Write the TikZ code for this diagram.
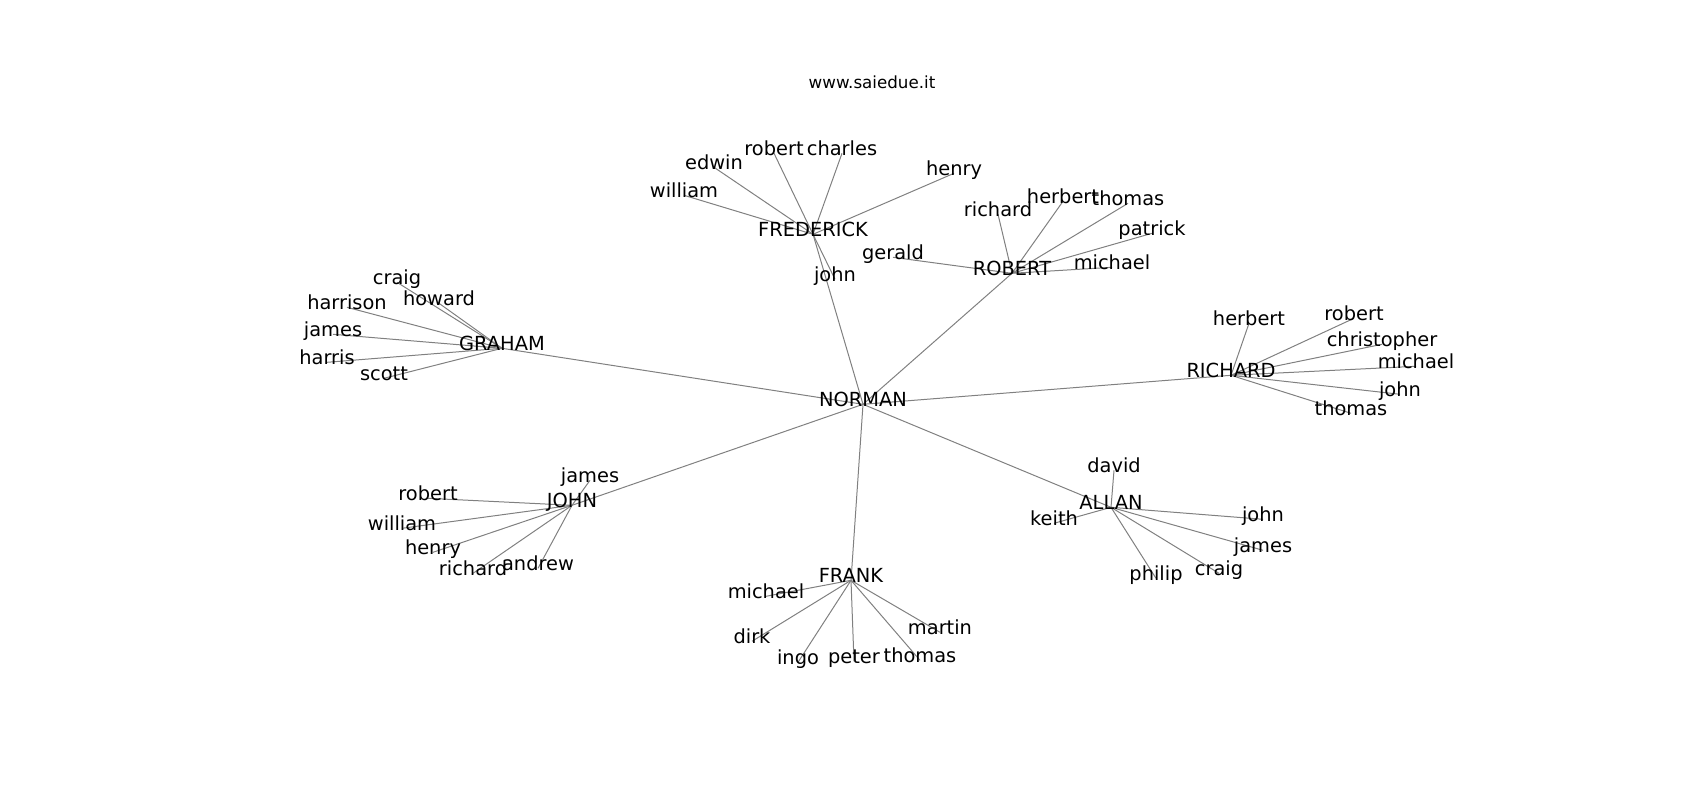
\documentclass[tikz,border=0pt]{standalone}
\usepackage{fontspec}
\setmainfont{DejaVu Sans}
\usetikzlibrary{backgrounds}

\begin{document}
\begin{tikzpicture}[x=1pt,y=-1pt,
	lbl/.style={inner sep=0pt, text height=0.73em, text depth=0.24em, font=\fontsize{19.4}{23}\selectfont},
	link/.style={draw=black!50, line width=1pt}]
			\useasboundingbox (0,0) rectangle (1700,800);
			\node[font=\fontsize{16.7}{20}\selectfont] at(872,82) (title) {www.saiedue.it};
			
			\begin{scope}[shift={(0,3.3)}]
			\node[lbl] at(863,401) (norman) {NORMAN};
			\node[lbl] at(813,231) (fred) {FREDERICK};
			\node[lbl] at(1012,270) (rob) {ROBERT};
			\node[lbl] at(502,345) (grah) {GRAHAM};
			\node[lbl] at(1231,372) (rich) {RICHARD};
			\node[lbl] at(572,502) (john) {JOHN};
			\node[lbl] at(851,577) (frank) {FRANK};
			\node[lbl] at(1111,504) (allan) {ALLAN};
			
			\node[lbl] at(684,192) (fwilliam) {william};
			\node[lbl] at(714,164) (fedwin) {edwin};
			\node[lbl] at(774,150) (frobert) {robert};
			\node[lbl] at(842,150) (fcharles) {charles};
			\node[lbl] at(954,170) (fhenry) {henry};
			\node[lbl] at(835,276) (fjohn) {john};
			
			\node[lbl] at(998,211) (rrichard) {richard};
			\node[lbl] at(1063,198) (rherbert) {herbert};
			\node[lbl] at(1128,200) (rthomas) {thomas};
			\node[lbl] at(1152,230) (rpatrick) {patrick};
			\node[lbl] at(1112,264) (rmichael) {michael};
			\node[lbl] at(893,254) (rgerald) {gerald};
			
			\node[lbl] at(397,279) (gcraig) {craig};
			\node[lbl] at(439,300) (ghoward) {howard};
			\node[lbl] at(347,304) (gharrison) {harrison};
			\node[lbl] at(333,331) (gjames) {james};
			\node[lbl] at(327,359) (gharris) {harris};
			\node[lbl] at(384,375) (gscott) {scott};
			
			\node[lbl] at(1249,320) (hherbert) {herbert};
			\node[lbl] at(1354,315) (hrobert) {robert};
			\node[lbl] at(1382,341) (hchristopher) {christopher};
			\node[lbl] at(1416,363) (hmichael) {michael};
			\node[lbl] at(1400,391) (hjohn) {john};
			\node[lbl] at(1351,410) (hthomas) {thomas};
			
			\node[lbl] at(590,477) (jjames) {james};
			\node[lbl] at(428,495) (jrobert) {robert};
			\node[lbl] at(402,525) (jwilliam) {william};
			\node[lbl] at(433,549) (jhenry) {henry};
			\node[lbl] at(473,570) (jrichard) {richard};
			\node[lbl] at(538,565) (jandrew) {andrew};
			
			\node[lbl] at(766,593) (kmichael) {michael};
			\node[lbl] at(752,638) (kdirk) {dirk};
			\node[lbl] at(798,659) (kingo) {ingo};
			\node[lbl] at(854,658) (kpeter) {peter};
			\node[lbl] at(920,657) (kthomas) {thomas};
			\node[lbl] at(940,629) (kmartin) {martin};
			
			\node[lbl] at(1114,467) (adavid) {david};
			\node[lbl] at(1054,520) (akeith) {keith};
			\node[lbl] at(1263,516) (ajohn) {john};
			\node[lbl] at(1263,547) (ajames) {james};
			\node[lbl] at(1219,570) (acraig) {craig};
			\node[lbl] at(1156,575) (aphilip) {philip};
			\end{scope}
			
			\begin{scope}[on background layer]
			\foreach \c in {fred,rob,grah,rich,john,frank,allan}
				\draw[link] (norman.center) -- (\c.center);
			\foreach \c in {fwilliam,fedwin,frobert,fcharles,fhenry,fjohn}
				\draw[link] (fred.center) -- (\c.center);
			\foreach \c in {rrichard,rherbert,rthomas,rpatrick,rmichael,rgerald}
				\draw[link] (rob.center) -- (\c.center);
			\foreach \c in {gcraig,ghoward,gharrison,gjames,gharris,gscott}
				\draw[link] (grah.center) -- (\c.center);
			\foreach \c in {hherbert,hrobert,hchristopher,hmichael,hjohn,hthomas}
				\draw[link] (rich.center) -- (\c.center);
			\foreach \c in {jjames,jrobert,jwilliam,jhenry,jrichard,jandrew}
				\draw[link] (john.center) -- (\c.center);
			\foreach \c in {kmichael,kdirk,kingo,kpeter,kthomas,kmartin}
				\draw[link] (frank.center) -- (\c.center);
			\foreach \c in {adavid,akeith,ajohn,ajames,acraig,aphilip}
				\draw[link] (allan.center) -- (\c.center);
			\end{scope}
			\end{tikzpicture}
\end{document}
